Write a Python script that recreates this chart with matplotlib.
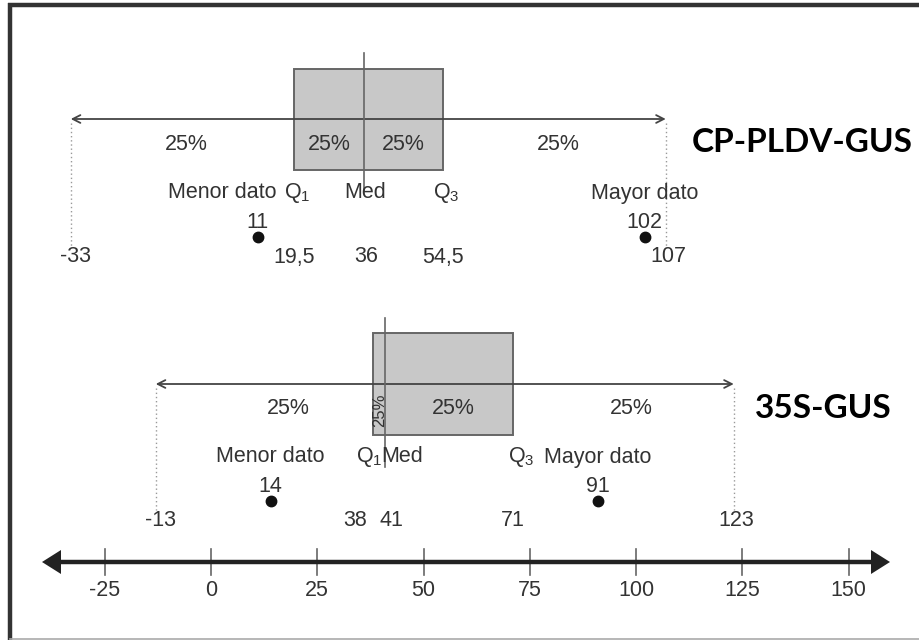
import matplotlib
matplotlib.use("Agg")
import matplotlib.pyplot as plt
from matplotlib.patches import Rectangle, Polygon
from matplotlib import font_manager

# ---------------- data ----------------
groups = ["CP-PLDV-GUS", "35S-GUS"]
lower_fence = [-33, -13]
min_data = [11, 14]
q1 = [19.5, 38]
median = [36, 41]
q3 = [54.5, 71]
max_data = [102, 91]
upper_fence = [107, 123]
quartile_pct = ["25%", "25%", "25%", "25%"]
axis_ticks = [-25, 0, 25, 50, 75, 100, 125, 150]

# ---------------- layout ----------------
W, H = 919, 640
PX = 4.25          # pixels per data unit
X0 = 211           # pixel position of value 0

def px2x(p):
    return (p - X0) / PX

def fmt(v):
    return f"{v:g}".replace(".", ",")

avail = {f.name for f in font_manager.fontManager.ttflist}
base_fam = [f for f in ["Liberation Sans Narrow", "Liberation Sans", "DejaVu Sans"] if f in avail]
plt.rcParams["font.family"] = base_fam
plt.rcParams["mathtext.fontset"] = "custom"
plt.rcParams["mathtext.rm"] = base_fam[0]
title_fam = [f for f in ["Lato", "Open Sans", "DejaVu Sans"] if f in avail]

TXT = "#333333"
FS = 15.5

# per-group vertical layout (pixels)
lay = [
    dict(box=(69, 170), wy=119, med=(53, 190), names=193, count=222, dot=237,
         vals=257, dot_end=247, pct_y=144, title=(692, 143)),
    dict(box=(333, 435), wy=384, med=(318, 467), names=457, count=486, dot=501,
         vals=520, dot_end=510, pct_y=408, title=(755, 408)),
]

fig = plt.figure(figsize=(W / 100, H / 100), dpi=100)
ax = fig.add_axes([0, 0, 1, 1])
ax.set_xlim(px2x(0), px2x(W))
ax.set_ylim(H, 0)
ax.axis("off")

# frame
ax.plot([px2x(8), px2x(W)], [5, 5], color="#333333", lw=3.2, solid_capstyle="butt")
ax.plot([px2x(10), px2x(10)], [3, 640], color="#333333", lw=3.2, solid_capstyle="butt")
ax.plot([px2x(10), px2x(W)], [638.5, 638.5], color="#aaaaaa", lw=1.2)

for i, g in enumerate(groups):
    L = lay[i]
    top, bot = L["box"]
    # box
    ax.add_patch(Rectangle((q1[i], top), q3[i] - q1[i], bot - top,
                           facecolor="#c8c8c8", edgecolor="#666666", lw=1.4, zorder=1))
    # whisker arrow
    ax.annotate("", xy=(lower_fence[i], L["wy"]), xytext=(upper_fence[i], L["wy"]),
                arrowprops=dict(arrowstyle="<->,head_length=0.55,head_width=0.28",
                                lw=1.3, color="#444444", shrinkA=0, shrinkB=0), zorder=2)
    # median line
    ax.plot([median[i], median[i]], list(L["med"]), color="#666666", lw=1.2, zorder=2)
    # dotted fence lines
    for f in (lower_fence[i], upper_fence[i]):
        ax.plot([f, f], [L["wy"] + 4, L["dot_end"]], color="#999999", lw=1.0,
                ls=(0, (1, 2)), zorder=1)
    # percentage labels
    edges = [lower_fence[i], q1[i], median[i], q3[i], upper_fence[i]]
    nudges = [4, 0, 0, 4] if i == 0 else [24, 0, 4, 8]
    for k in range(4):
        xm = (edges[k] + edges[k + 1]) / 2 + nudges[k] / PX
        if i == 1 and k == 1:
            ax.text(px2x(380), L["pct_y"] + 2, quartile_pct[k], rotation=90, ha="center",
                    va="center", fontsize=12, color=TXT, zorder=3)
        else:
            ax.text(xm, L["pct_y"], quartile_pct[k], ha="center", va="center",
                    fontsize=FS, color=TXT, zorder=3)
    # name labels
    ny = L["names"]
    if i == 0:
        ax.text(min_data[i] + 19 / PX, ny, "Menor dato", ha="right", va="center", fontsize=FS, color=TXT)
        ax.text(q1[i] + 3 / PX, ny, r"Q$_{\mathregular{1}}$", ha="center", va="center", fontsize=FS, color=TXT)
        ax.text(median[i] + 1 / PX, ny, "Med", ha="center", va="center", fontsize=FS, color=TXT)
        ax.text(q3[i] + 4 / PX, ny, r"Q$_{\mathregular{3}}$", ha="center", va="center", fontsize=FS, color=TXT)
    else:
        ax.text(min_data[i], ny, "Menor dato", ha="center", va="center", fontsize=FS, color=TXT)
        ax.text(q1[i] - 3 / PX, ny, r"Q$_{\mathregular{1}}$", ha="center", va="center", fontsize=FS, color=TXT)
        ax.text(median[i] - 4 / PX, ny, "Med", ha="left", va="center", fontsize=FS, color=TXT)
        ax.text(q3[i] + 9 / PX, ny, r"Q$_{\mathregular{3}}$", ha="center", va="center", fontsize=FS, color=TXT)
    ax.text(max_data[i], ny, "Mayor dato", ha="center", va="center", fontsize=FS, color=TXT)
    # counts + dots
    for v in (min_data[i], max_data[i]):
        ax.text(v, L["count"], fmt(v), ha="center", va="center", fontsize=FS, color=TXT)
        ax.plot([v], [L["dot"]], "o", color="#111111", ms=7.5, zorder=3)
    # value labels
    vy = L["vals"]
    ax.text(lower_fence[i] + 5 / PX, vy, fmt(lower_fence[i]), ha="center", va="center", fontsize=FS, color=TXT)
    ax.text(upper_fence[i] + 3 / PX, vy, fmt(upper_fence[i]), ha="center", va="center", fontsize=FS, color=TXT)
    ax.text(q3[i], vy, fmt(q3[i]), ha="center", va="center", fontsize=FS, color=TXT)
    if i == 0:
        ax.text(q1[i], vy, fmt(q1[i]), ha="center", va="center", fontsize=FS, color=TXT)
        ax.text(median[i] + 2 / PX, vy, fmt(median[i]), ha="center", va="center", fontsize=FS, color=TXT)
    else:
        ax.text(q1[i] - 6 / PX, vy, fmt(q1[i]), ha="right", va="center", fontsize=FS, color=TXT)
        ax.text(median[i] - 6 / PX, vy, fmt(median[i]), ha="left", va="center", fontsize=FS, color=TXT)
    # group title
    tx, ty = L["title"]
    ax.text(px2x(tx), ty, g, ha="left", va="center", fontsize=24, fontweight="bold",
            family=title_fam, color="black")

# number line
AY = 562
ax.plot([px2x(58), px2x(874)], [AY, AY], color="#222222", lw=3.2, solid_capstyle="butt", zorder=2)
ax.add_patch(Polygon([[px2x(42), AY], [px2x(61), AY - 12], [px2x(61), AY + 12]],
                     closed=True, facecolor="#222222", edgecolor="none", zorder=3))
ax.add_patch(Polygon([[px2x(890), AY], [px2x(871), AY - 12], [px2x(871), AY + 12]],
                     closed=True, facecolor="#222222", edgecolor="none", zorder=3))
for t in axis_ticks:
    ax.plot([t, t], [549, 575], color="#666666", lw=1.2, zorder=1)
    ax.text(t, 590, f"{t}", ha="center", va="center", fontsize=FS, color=TXT)

fig.savefig("out.png", dpi=100)
